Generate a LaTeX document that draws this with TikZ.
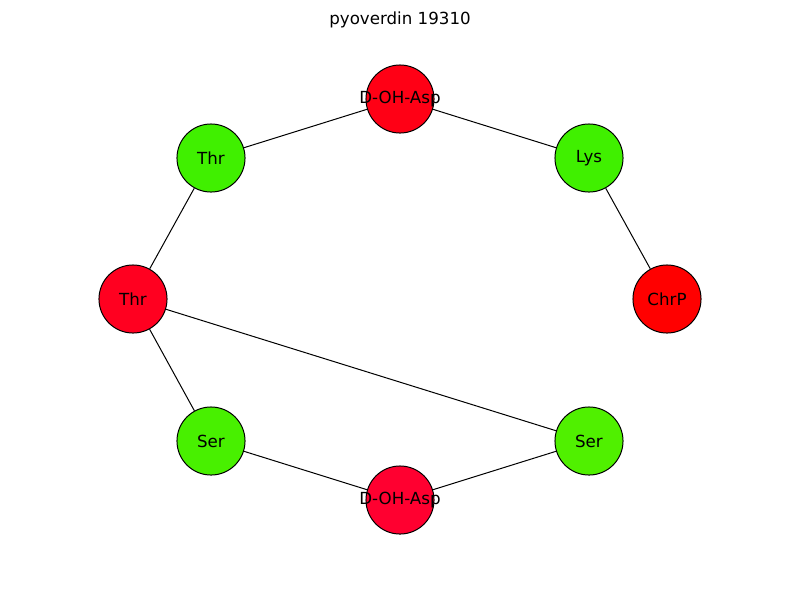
\documentclass[tikz,border=0pt]{standalone}
\usepackage{fontspec}
\setmainfont{DejaVu Sans}
\definecolor{cA}{HTML}{FF0015}
\definecolor{cB}{HTML}{40F000}
\definecolor{cC}{HTML}{FF0000}
\definecolor{cD}{HTML}{50F000}
\definecolor{cE}{HTML}{FF0030}
\definecolor{cF}{HTML}{48F000}
\definecolor{cG}{HTML}{FF0020}
\definecolor{cH}{HTML}{40F000}
\tikzset{
  res/.style={circle, draw=black, line width=0.72pt, minimum size=49pt, inner sep=0pt, font=\fontsize{12}{14}\selectfont},
  link/.style={line width=0.72pt, draw=black}
}
\newcommand{\lbl}[1]{\makebox[0pt]{#1}}
\begin{document}
\begin{tikzpicture}[x=0.72pt, y=-0.72pt]
\useasboundingbox (0,0) rectangle (800,600);
\node[font=\fontsize{12}{14}\selectfont] (title) at (400,20) {pyoverdin 19310};
\node[res, fill=cA] (a1) at (400,99) {\lbl{D-OH-Asp}};
\node[res, fill=cB] (lys) at (589,158) {\lbl{Lys}};
\node[res, fill=cC] (chrp) at (667,299) {\lbl{ChrP}};
\node[res, fill=cD] (ser2) at (589,441) {\lbl{Ser}};
\node[res, fill=cE] (a2) at (400,500) {\lbl{D-OH-Asp}};
\node[res, fill=cF] (ser1) at (211,441) {\lbl{Ser}};
\node[res, fill=cG] (thr2) at (133,299) {\lbl{Thr}};
\node[res, fill=cH] (thr1) at (211,158) {\lbl{Thr}};
\draw[link] (thr1) -- (a1);
\draw[link] (a1) -- (lys);
\draw[link] (lys) -- (chrp);
\draw[link] (thr1) -- (thr2);
\draw[link] (thr2) -- (ser1);
\draw[link] (thr2) -- (ser2);
\draw[link] (ser1) -- (a2);
\draw[link] (a2) -- (ser2);
\end{tikzpicture}
\end{document}
